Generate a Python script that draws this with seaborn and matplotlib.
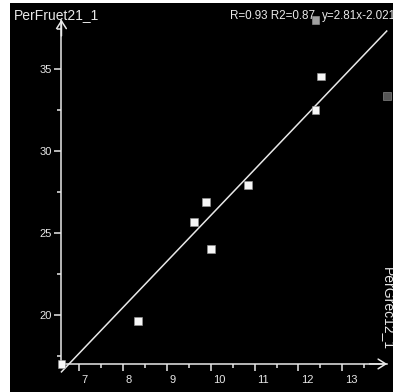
import matplotlib
matplotlib.use("Agg")
import matplotlib.pyplot as plt
from matplotlib.transforms import ScaledTranslation
import numpy as np
import pandas as pd
import seaborn as sns

# Observations: PerGrec12_1 (x) vs PerFruet21_1 (y)
per_grec = [6.60, 8.34, 9.62, 9.89, 10.01, 10.85, 12.39, 12.51, 12.39, 14.01]
per_fruet = [17.01, 19.63, 25.68, 26.91, 24.03, 27.94, 32.52, 34.56, 38.02, 33.38]
status = ["in", "in", "in", "in", "in", "in", "in", "in", "grey", "dim"]

# Fit summary
r_value = 0.93
r2_value = 0.87
slope = 2.81
intercept = -2.021

x_major = [7, 8, 9, 10, 11, 12, 13]
x_minor = [7.5, 8.5, 9.5, 10.5, 11.5, 12.5, 13.5]
y_major = [20, 25, 30, 35]
y_minor = [17.5, 22.5, 27.5, 32.5, 37.5]

df = pd.DataFrame({"PerGrec12_1": per_grec, "PerFruet21_1": per_fruet, "status": status})

W, H = 393, 392
fig = plt.figure(figsize=(W / 100, H / 100), dpi=100)
fig.patch.set_facecolor("white")
ax = fig.add_axes([10 / W, 0, (W - 10) / W, (H - 3) / H])
ax.set_facecolor("black")

FG = "#e8e8e8"
plt.rcParams["font.family"] = ["Liberation Sans", "DejaVu Sans"]

x0, y0 = min(per_grec), min(per_fruet)
x_end, y_end = 14.02, 38.05

ax.set_xlim(5.428, 14.153)
ax.set_ylim(15.296, 39.06)

# regression line over the x range of the data
xs = np.array([min(per_grec), max(per_grec)])
ax.plot(xs, slope * xs + intercept, color=FG, lw=1.1, zorder=2)

sns.scatterplot(
    data=df, x="PerGrec12_1", y="PerFruet21_1", hue="status",
    palette={"in": "#f7f7f7", "grey": "#a0a0a0", "dim": "#555555"},
    marker="s", s=30, edgecolor="#9a9a9a", linewidth=0.4,
    legend=False, ax=ax, zorder=4, clip_on=False,
)

# axes crossing at the data minimum
for side in ["top", "right"]:
    ax.spines[side].set_visible(False)
ax.spines["left"].set_position(("data", x0))
ax.spines["bottom"].set_position(("data", y0))
ax.spines["left"].set_bounds(y0, y_end)
ax.spines["bottom"].set_bounds(x0, x_end)
for side in ["left", "bottom"]:
    ax.spines[side].set_color(FG)
    ax.spines[side].set_linewidth(1.1)

# open arrowheads at the axis ends
arrow = dict(arrowstyle="->,head_length=0.55,head_width=0.35", color=FG, lw=1.1,
             shrinkA=0, shrinkB=0)
ax.annotate("", xy=(x0, y_end), xytext=(x0, y_end - 1), arrowprops=arrow)
ax.annotate("", xy=(x_end, y0), xytext=(x_end - 0.4, y0), arrowprops=arrow)

ax.set_xticks(x_major)
ax.set_xticks(x_minor, minor=True)
ax.set_yticks(y_major)
ax.set_yticks(y_minor, minor=True)
ax.tick_params(which="major", direction="out", length=5, width=1.1, color=FG,
               labelcolor=FG, labelsize=8)
ax.tick_params(which="minor", direction="out", length=2.8, width=1.1, color=FG)
ax.tick_params(axis="x", pad=3)
ax.tick_params(axis="y", pad=2)
ax.set_xlabel("")
ax.set_ylabel("")

shift = ScaledTranslation(2 / 72, 0, fig.dpi_scale_trans)
for tick in ax.xaxis.get_major_ticks():
    tick.label1.set_horizontalalignment("left")
    tick.label1.set_transform(tick.label1.get_transform() + shift)

# axis titles and fit statistics
fig.text(14 / W, 1 - 19 / H, "PerFruet21_1", color=FG, fontsize=10, va="baseline", ha="left")
fig.text(230 / W, 1 - 19 / H, f"R={r_value:.2f} R2={r2_value:.2f}", color=FG, fontsize=8.4,
         va="baseline", ha="left")
fig.text(322 / W, 1 - 19 / H, f"y={slope:.2f}x{intercept:.3f}", color=FG, fontsize=8.4,
         va="baseline", ha="left")
fig.text(381 / W, 1 - 267 / H, "PerGrec12_1", color=FG, fontsize=10, rotation=270,
         ha="left", va="top")

fig.savefig("out.png", dpi=100, facecolor=fig.get_facecolor())
